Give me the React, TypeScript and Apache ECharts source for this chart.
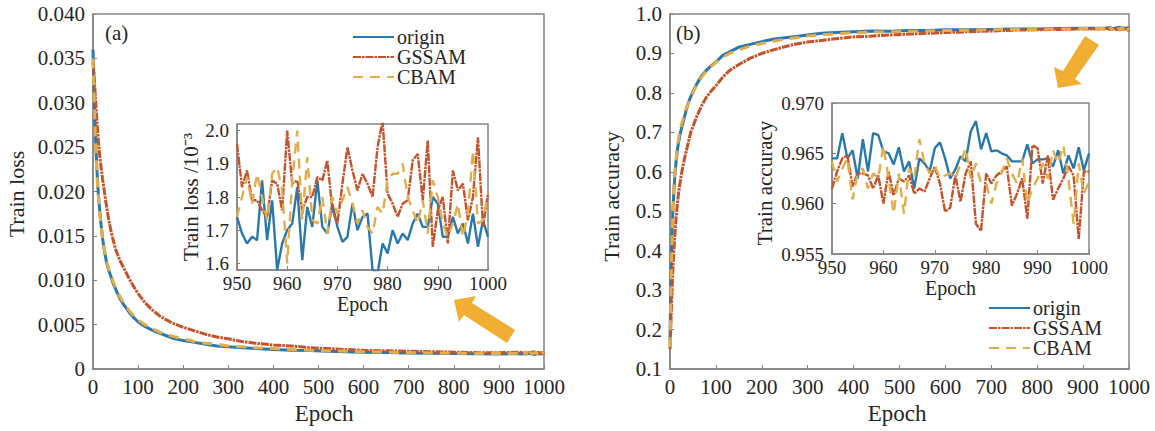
import React, { useEffect, useRef } from "react";
import * as echarts from "echarts";

const epochsCoarse = [0,2,4,6,8,10,12,15,18,21,25,30,35,40,45,50,60,70,80,90,100,115,130,150,175,200,225,250,275,300,330,360,400,440,480,520,560,600,650,700,750,800,850,900,949];
const epochsFine = [950,951,952,953,954,955,956,957,958,959,960,961,962,963,964,965,966,967,968,969,970,971,972,973,974,975,976,977,978,979,980,981,982,983,984,985,986,987,988,989,990,991,992,993,994,995,996,997,998,999,1000];

const lossOrigin = [.036,.032,.0285,.0255,.0232,.0212,.0196,.0178,.0162,.0148,.0134,.012,.0111,.0104,.0096,.009,.0079,.0071,.0064,.0058,.0053,.0048,.0044,.004,.0035,.0032,.003,.0028,.0026,.0025,.0024,.0023,.0022,.0021,.00208,.002,.00195,.0019,.00187,.0018,.00178,.00175,.00172,.0017,.00172];
const lossGssam = [.0345,.0335,.0318,.03,.0284,.027,.0256,.024,.0227,.0215,.0201,.0183,.0168,.0155,.0145,.0135,.0122,.0112,.0102,.0093,.0085,.0075,.0067,.0059,.0052,.0047,.0043,.0039,.0036,.0034,.0031,.0029,.0027,.0026,.0024,.0023,.0022,.0021,.00205,.002,.00195,.0019,.00185,.00182,.0019];
const lossCbam = [.035,.0315,.028,.025,.0228,.0208,.0194,.0176,.0161,.0149,.0135,.0122,.0112,.0105,.0098,.0092,.0081,.0073,.0066,.006,.0055,.005,.0046,.0041,.0037,.0034,.0031,.0029,.0028,.0026,.0025,.0024,.0023,.0022,.0021,.00205,.002,.00195,.0019,.00185,.0018,.00178,.00176,.00174,.00178];

const insetLossOrigin = [1.74,1.69,1.66,1.68,1.67,1.85,1.67,1.79,1.58,1.66,1.7,1.72,1.83,1.61,1.77,1.71,1.85,1.71,1.69,1.78,1.71,1.665,1.68,1.78,1.7,1.74,1.75,1.58,1.57,1.66,1.63,1.7,1.66,1.69,1.67,1.72,1.75,1.71,1.71,1.8,1.78,1.68,1.68,1.74,1.69,1.72,1.66,1.75,1.65,1.73,1.68];
const insetLossGssam = [1.96,1.83,1.88,1.79,1.79,1.76,1.74,1.85,1.84,1.76,2,1.84,1.85,1.76,1.8,1.8,1.86,1.85,1.91,1.76,1.72,1.84,1.95,1.88,1.82,1.87,1.84,1.8,1.95,2.03,1.81,1.78,1.74,1.78,1.79,1.91,1.93,1.79,1.97,1.65,1.76,1.8,1.66,1.88,1.82,1.84,1.73,1.8,1.98,1.71,1.81];
const insetLossCbam = [1.74,1.8,1.86,1.78,1.87,1.8,1.73,1.87,1.89,1.82,1.6,1.85,2,1.73,1.92,1.73,1.72,1.8,1.69,1.8,1.75,1.79,1.83,1.78,1.72,1.76,1.71,1.69,1.77,1.75,1.85,1.87,1.87,1.9,1.8,1.76,1.72,1.79,1.69,1.85,1.8,1.72,1.68,1.72,1.78,1.68,1.75,1.94,1.72,1.73,1.81];

const accOrigin = [.17,.33,.43,.495,.54,.58,.61,.645,.67,.69,.71,.732,.755,.775,.79,.803,.826,.845,.858,.869,.878,.895,.904,.916,.923,.93,.936,.94,.943,.947,.951,.953,.955,.957,.956,.958,.958,.96,.96,.961,.962,.962,.963,.964,.964];
const accGssam = [.15,.215,.285,.345,.39,.43,.465,.505,.54,.565,.595,.625,.65,.675,.7,.715,.745,.77,.79,.805,.818,.84,.857,.872,.888,.9,.909,.917,.924,.929,.933,.937,.942,.944,.947,.949,.951,.953,.955,.957,.959,.96,.961,.962,.962];
const accCbam = [.155,.3,.41,.485,.545,.59,.62,.655,.68,.7,.72,.74,.76,.775,.79,.8,.825,.842,.856,.867,.877,.89,.9,.909,.919,.925,.931,.936,.94,.944,.947,.95,.952,.954,.955,.956,.957,.958,.959,.96,.961,.961,.962,.963,.963];

const insetAccOrigin = [.9645,.9645,.967,.9645,.9653,.9625,.9664,.9632,.967,.9668,.9652,.965,.9639,.9656,.9632,.9642,.9615,.9645,.964,.9632,.9655,.9661,.9645,.9625,.9634,.9647,.9642,.9672,.9682,.9654,.967,.9652,.9653,.965,.9648,.9642,.9642,.9642,.9659,.964,.9644,.9644,.9645,.9637,.9653,.963,.9648,.9635,.9656,.9633,.965];
const insetAccGssam = [.9615,.9632,.9645,.9648,.9617,.963,.963,.9628,.9615,.9628,.96,.9632,.9608,.9625,.9622,.9628,.961,.9615,.9612,.9625,.9637,.962,.9592,.9596,.9628,.9602,.963,.9642,.958,.9573,.963,.962,.9628,.9632,.9637,.9598,.961,.9625,.9585,.9658,.9655,.962,.9648,.9604,.9615,.9625,.9637,.9628,.9565,.9632,.9632];
const insetAccCbam = [.9642,.9622,.9635,.9645,.9604,.963,.9635,.9615,.963,.9625,.9658,.9625,.959,.963,.959,.9635,.9625,.9664,.964,.963,.9638,.9625,.9628,.963,.9625,.964,.9655,.9625,.964,.962,.962,.96,.962,.963,.9645,.963,.962,.9645,.96,.9615,.9625,.964,.9625,.9653,.964,.9658,.9625,.958,.964,.961,.9622];

const names = ["origin", "GSSAM", "CBAM"];
const colors = ["#2a79ad", "#c5532c", "#e2ad4a"];
const dashes: any[] = ["solid", [8, 1, 2.5, 1], [10, 7]];
const FONT = "Liberation Serif";
const TEXT = "#262626";
const AXIS = "#858585";

const pairs = (xs: number[], ys: number[]) => xs.map((x, i) => [x, ys[i]]);
const scaled = (ys: number[], k: number) => ys.map((y) => y * k);

function makeAxis(extra: any, fontSize: number, nameSize: number, namePadding: number[] = [0, 0, 0, 0]) {
  return {
    type: "value",
    nameLocation: "middle",
    nameTextStyle: { fontFamily: FONT, fontSize: nameSize, color: TEXT, padding: namePadding },
    axisLine: { show: true, onZero: false, lineStyle: { color: AXIS, width: 1.5 } },
    axisTick: { show: true, inside: true, length: 4, lineStyle: { color: AXIS, width: 1 } },
    splitLine: { show: false },
    ...extra,
    axisLabel: { fontFamily: FONT, fontSize, color: TEXT, showMinLabel: true, showMaxLabel: true, hideOverlap: false, formatter: (v: number) => String(v), ...(extra.axisLabel || {}) },
  };
}

function lineSeries(idx: number, data: number[][], axisIndex: number, width: number) {
  return {
    type: "line",
    name: names[idx],
    xAxisIndex: axisIndex,
    yAxisIndex: axisIndex,
    data,
    showSymbol: false,
    symbol: "none",
    clip: true,
    lineStyle: { color: colors[idx], width, type: dashes[idx] },
    itemStyle: { color: colors[idx] },
  };
}

const legendBase = (left: number, top: number) => ({
  data: names,
  left,
  top,
  orient: "vertical",
  padding: 0,
  itemGap: 0,
  itemWidth: 41,
  itemHeight: 14,
  selectedMode: false,
  itemStyle: { opacity: 0 },
  textStyle: { fontFamily: FONT, fontSize: 20, color: TEXT, padding: [0, 0, 0, -2] },
});

export default function App() {
  const ref = useRef<HTMLDivElement>(null);
  useEffect(() => {
    const chart = echarts.init(ref.current!, undefined, { renderer: "svg" });
    const gridStyle = { show: true, borderColor: AXIS, borderWidth: 1.5, backgroundColor: "#fff" };
    const mainLoss = [lossOrigin, lossGssam, lossCbam];
    const fineLoss = [insetLossOrigin, insetLossGssam, insetLossCbam];
    const mainAcc = [accOrigin, accGssam, accCbam];
    const fineAcc = [insetAccOrigin, insetAccGssam, insetAccCbam];
    const series: any[] = [];
    [0, 1, 2].forEach((i) => {
      series.push(lineSeries(i, pairs(epochsCoarse.concat(epochsFine), mainLoss[i].concat(scaled(fineLoss[i], 0.001))), 0, 3));
    });
    [0, 1, 2].forEach((i) => {
      series.push(lineSeries(i, pairs(epochsCoarse.concat(epochsFine), mainAcc[i].concat(fineAcc[i])), 1, 3));
    });
    [0, 1, 2].forEach((i) => series.push(lineSeries(i, pairs(epochsFine, fineLoss[i]), 2, 2.4)));
    [0, 1, 2].forEach((i) => series.push(lineSeries(i, pairs(epochsFine, fineAcc[i]), 3, 2.4)));

    chart.setOption({
      animation: false,
      backgroundColor: "#fff",
      textStyle: { fontFamily: FONT },
      grid: [
        { left: 93, top: 14, width: 451, height: 355, ...gridStyle },
        { left: 670, top: 14, width: 459, height: 355, ...gridStyle },
        { left: 237, top: 124, width: 251, height: 146, ...gridStyle },
        { left: 832, top: 103, width: 257, height: 151, ...gridStyle },
      ],
      xAxis: [
        makeAxis({ gridIndex: 0, min: 0, max: 1000, interval: 100, name: "Epoch", nameGap: 31, axisLabel: { margin: 7 } }, 21, 23, [0, 0, 0, 11]),
        makeAxis({ gridIndex: 1, min: 0, max: 1000, interval: 100, name: "Epoch", nameGap: 31, axisLabel: { margin: 7 } }, 21, 23, [0, 5, 0, 0]),
        makeAxis({ gridIndex: 2, min: 950, max: 1000, interval: 10, name: "Epoch", nameGap: 19, axisLabel: { margin: 4 } }, 19, 20),
        makeAxis({ gridIndex: 3, min: 950, max: 1000, interval: 10, name: "Epoch", nameGap: 18, axisLabel: { margin: 4 } }, 19, 20, [0, 20, 0, 0]),
      ],
      yAxis: [
        makeAxis({ gridIndex: 0, min: 0, max: 0.04, interval: 0.005, name: "Train loss", nameGap: 66,
          axisLabel: { formatter: (v: number) => (v === 0 ? "0" : v.toFixed(3)) } }, 21, 22, [0, 5, 0, 0]),
        makeAxis({ gridIndex: 1, min: 0.1, max: 1, interval: 0.1, name: "Train accuracy", nameGap: 48,
          axisLabel: { formatter: (v: number) => v.toFixed(1) } }, 21, 22, [0, 10, 0, 0]),
        makeAxis({ gridIndex: 2, min: 1.58, max: 2.02, name: "Train loss /10⁻³", nameGap: 24,
          axisTick: { show: true, inside: true, length: 3, customValues: [1.6, 1.7, 1.8, 1.9, 2.0], lineStyle: { color: AXIS, width: 1 } },
          axisLabel: { customValues: [1.6, 1.7, 1.8, 1.9, 2.0], formatter: (v: number) => v.toFixed(1) } }, 19, 21),
        makeAxis({ gridIndex: 3, min: 0.955, max: 0.97, interval: 0.005, name: "Train accuracy", nameGap: 57,
          axisLabel: { formatter: (v: number) => v.toFixed(3) } }, 19, 21, [0, 9, 0, 0]),
      ],
      legend: [legendBase(352, 27), legendBase(988, 298)],
      graphic: [
        { type: "text", left: 105, top: 22, style: { text: "(a)", fontFamily: FONT, fontSize: 21, fill: TEXT } },
        { type: "text", left: 676, top: 22, style: { text: "(b)", fontFamily: FONT, fontSize: 21, fill: TEXT } },
        { type: "polygon", shape: { points: [[454,300],[476,296],[472,303],[515,330],[507,343],[464,315],[459,322]] }, style: { fill: "#f0ae32" } },
        { type: "polygon", shape: { points: [[1058,88],[1054,67],[1063,71],[1085,36],[1099,45],[1075,79],[1082,84]] }, style: { fill: "#f0ae32" } },
      ],
      series,
    });
    return () => chart.dispose();
  }, []);
  return <div ref={ref} style={{ position: "absolute", left: 0, top: 0, width: 1155, height: 431 }} />;
}
